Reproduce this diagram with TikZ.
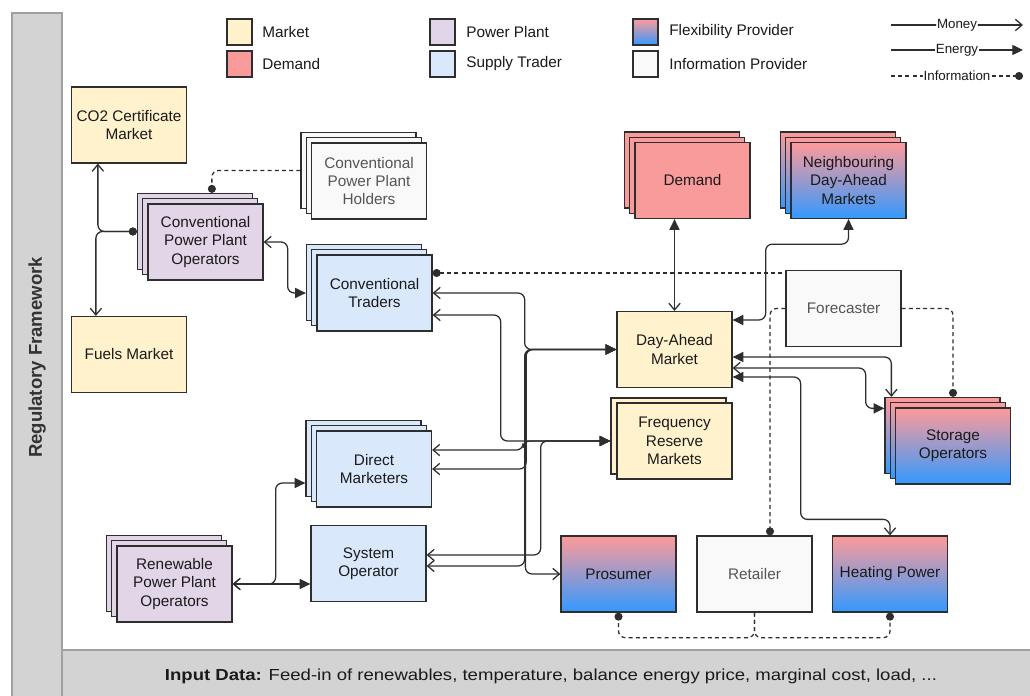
\documentclass[tikz,border=0pt]{standalone}
\usepackage{fontspec}
\usepackage{graphicx}
\setmainfont{Liberation Sans}
\usetikzlibrary{arrows.meta,calc}
\definecolor{strokec}{HTML}{2E2E2E}
\definecolor{mkt}{HTML}{FFF2CC}
\definecolor{dem}{HTML}{F99B9B}
\definecolor{pp}{HTML}{E1D5E7}
\definecolor{stc}{HTML}{DAE8FC}
\definecolor{ip}{HTML}{F9F9F9}
\definecolor{ftop}{HTML}{FF9A9A}
\definecolor{fbot}{HTML}{3399FF}
\definecolor{barc}{HTML}{D3D3D3}
\definecolor{barline}{HTML}{A0A0A0}
\definecolor{txt}{HTML}{1A1A1A}
\definecolor{iptxt}{HTML}{555555}
\newcommand\nodefont{\fontsize{11.5}{13.8}\selectfont}
\newcommand\legfont{\fontsize{10}{12}\selectfont}
\tikzset{
  money/.tip={Straight Barb[length=5pt,width=8.5pt]},
  energy/.tip={Triangle[length=8pt,width=7.5pt]},
  idot/.tip={Circle[length=6pt]},
  box/.style={draw=strokec, line width=0.95pt, minimum width=86.25pt, minimum height=57pt,
    inner sep=1pt, align=center, font=\nodefont, text=txt},
  mktfill/.style={fill=mkt},
  demfill/.style={fill=dem},
  ppfill/.style={fill=pp},
  stfill/.style={fill=stc},
  ipfill/.style={fill=ip, text=iptxt},
  flexfill/.style={top color=ftop, bottom color=fbot},
  conn/.style={draw=strokec, line width=0.95pt, rounded corners=5pt},
  info/.style={conn, dash pattern=on 3pt off 2.4pt},
  swatch/.style={draw=strokec, line width=0.95pt, minimum width=18.75pt, minimum height=19.5pt, inner sep=0pt},
  legtext/.style={anchor=west, inner sep=0pt, font=\nodefont, text=txt},
  arrlabel/.style={fill=white, inner sep=0.6pt, font=\legfont, text=txt},
}
\newcommand\tribox[5]{%
  \node[box,#4] (#1b) at ({#2-10.5},{#3-10.5}) {};
  \node[box,#4] (#1m) at ({#2-5.25},{#3-5.25}) {};
  \node[box,#4] (#1) at (#2,#3) {#5};
}
\begin{document}
\begin{tikzpicture}[x=0.75pt,y=-0.75pt]
\useasboundingbox (0,0) rectangle (1030,695);
\fill[white] (0,0) rectangle (1030,695);
% bars
\draw[barline, fill=barc, line width=0.8pt] (12,13) rectangle (62,697);
\draw[barline, fill=barc, line width=0.8pt] (62,650) rectangle (1032,697);
\node[rotate=90, font=\fontsize{13.9}{16}\selectfont\bfseries, text=black!80] (reg) at (37,357.5) {Regulatory Framework};
\node[font=\fontsize{12}{14}\selectfont, text=txt] (inp) at (551,676)
  {\resizebox{579pt}{\height}{\textbf{Input Data:} Feed-in of renewables, temperature, balance energy price, marginal cost, load, ...}};

% legend
\node[swatch,mktfill] (lg1) at (239.5,32) {};
\node[legtext] at (262,32) {Market};
\node[swatch,demfill] (lg2) at (239.5,64) {};
\node[legtext] at (262,64) {Demand};
\node[swatch,ppfill] (lg3) at (442.5,32) {};
\node[legtext] at (466,32) {Power Plant};
\node[swatch,stfill] (lg4) at (442.5,64) {};
\node[legtext] at (466,64) {Supply Trader};
\node[swatch,flexfill] (lg5) at (645.5,32) {};
\node[legtext] at (669,32) {Flexibility Provider};
\node[swatch,ipfill] (lg6) at (645.5,64) {};
\node[legtext] at (669,64) {Information Provider};

\coordinate (lm1) at (891,25); \coordinate (lm2) at (1023,25);
\coordinate (le1) at (891,50); \coordinate (le2) at (1023,50);
\coordinate (li1) at (891,76); \coordinate (li2) at (1023,76);
\draw[conn,-money] (lm1) -- (lm2) node[arrlabel, pos=0.5] {Money};
\draw[conn,-energy] (le1) -- (le2) node[arrlabel, pos=0.5] {Energy};
\draw[info,-idot] (li1) -- (li2) node[arrlabel, pos=0.5] {Information};

% nodes
\node[box,mktfill] (co2) at (129,125) {CO2 Certificate\\Market};
\node[box,mktfill] (fuels) at (129,354.5) {Fuels Market};
\tribox{cppo}{205.5}{242}{ppfill}{Conventional\\Power Plant\\Operators}
\tribox{hold}{369}{181}{ipfill}{Conventional\\Power Plant\\Holders}
\tribox{trad}{374.5}{293}{stfill}{Conventional\\Traders}
\tribox{dm}{374}{469}{stfill}{Direct\\Marketers}
\node[box,stfill] (so) at (368.5,563.5) {System\\Operator};
\tribox{rppo}{174.5}{584}{ppfill}{Renewable\\Power Plant\\Operators}
\tribox{dem}{692.5}{180.5}{demfill}{Demand}
\tribox{nb}{848.5}{180.5}{flexfill}{Neighbouring\\Day-Ahead\\Markets}
\node[box,mktfill] (dam) at (674.5,349.5) {Day-Ahead\\Market};
\node[box,ipfill] (fc) at (843.5,308.5) {Forecaster};
\node[box,mktfill] (frmb) at (668.5,436) {};
\node[box,mktfill] (frm) at (674.5,441) {Frequency\\Reserve\\Markets};
\tribox{sto}{953}{446}{flexfill}{Storage\\Operators}
\node[box,flexfill] (pros) at (618.5,574) {Prosumer};
\node[box,ipfill] (ret) at (754.5,574) {Retailer};
\node[box,flexfill] (heat) at (890,574) {Heating Power};

% connectors
\draw[conn,idot-money] (cppob.west) -| ($(co2.south west)+(27,0)$);
\draw[conn,idot-money] (cppob.west) -| ($(fuels.north west)+(25,0)$);
\draw[info,-idot] (holdb.west) -| ($(cppob.north west)+(75,0)$);
\draw[conn,money-energy] (cppo.east) -- ++(24,0) |- (tradb.west |- trad.west);
\draw[info,idot-] ($(trad.east)+(0,-20)$) -- ($(fc.west |- trad.east)+(0,-20)$);
\draw[conn,money-energy] (trad.east) -- ++(92,0) |- (dam.west);
\draw[conn,money-energy] ($(trad.east)+(0,22)$) -- ++(68,0) |- (frmb.west |- frm.west);
\draw[conn,money-energy] ($(dm.east)+(0,-19)$) -- ++(91,0) |- (frmb.west |- frm.west);
\draw[conn,money-energy] (dm.east) -- ++(94,0) |- (dam.west);
\draw[conn,money-energy] ($(so.east)+(0,-8.5)$) -- ++(114,0) |- (frmb.west |- frm.west);
\draw[conn,money-energy] ($(so.east)+(0,2.5)$) -- ++(98,0) |- (dam.west);
\draw[conn,energy-money] (dam.west) -- ++(-91,0) |- (pros.west);
\draw[conn,money-energy] (rppo.east) -- ++(43,0) |- ($(dmb.west)+(0,24.5)$);
\draw[conn,money-energy] (rppo.east) -- (so.west |- rppo.east);
\draw[conn,energy-money] (dam.north |- dem.south) -- (dam.north);
\draw[conn,energy-energy] (nb.south) -- ++(0,25) -| ($(dam.east)+(33,-29.5)$) -- ($(dam.east)+(0,-29.5)$);
\draw[conn,energy-money] ($(dam.east)+(0,7.5)$) -| ($(stob.north west)+(7,0)$);
\draw[conn,money-energy] ($(dam.east)+(0,18.5)$) -- ++(133,0) |- ($(stob.north west)+(0,11.5)$);
\draw[conn,energy-money] ($(dam.east)+(0,27.5)$) -- ++(68,0) |- ($(heat.north)+(0,-16)$) -- (heat.north);
\draw[info,-idot] (fc.west) -| ($(ret.north)+(15.5,0)$);
\draw[info,-idot] (fc.east) -| (sto.north |- stob.north);
\draw[info,-idot] (ret.south) -- ++(0,25) -| (pros.south);
\draw[info,-idot] (ret.south) -- ++(0,25) -| (heat.south);
\end{tikzpicture}
\end{document}
